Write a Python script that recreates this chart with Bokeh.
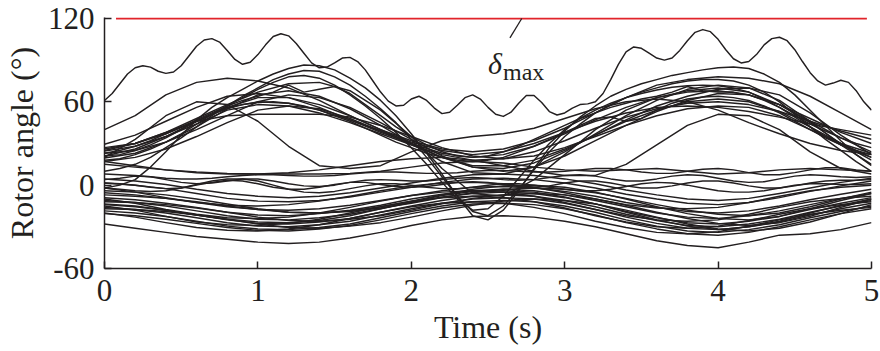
import numpy as np
from bokeh.plotting import figure
from bokeh.models import Range1d, FixedTicker, Label
from bokeh.embed import file_html
from bokeh.resources import INLINE

# ---------------- data (rotor angles in degrees) ----------------
X_TICKS = [0, 1, 2, 3, 4, 5]
Y_TICKS = [-60, 0, 60, 120]
DELTA_MAX = 120
RED_T = [0.075, 4.97]

# top machine, sampled every 0.05 s
top_line = [61, 66, 73, 80, 84.5, 86, 85, 82, 80.5, 81.5,
            86, 93, 100, 104.5, 105.5, 103, 97, 90.5, 87, 88.5,
            94, 101, 107, 109, 107.5, 102, 95, 88, 84.5, 85,
            88, 91.5, 92, 89, 83, 75, 67, 60.5, 57, 57.5,
            62, 64, 61, 55.5, 51.5, 52.5, 57.5, 63, 65, 62,
            56, 51, 49.5, 52.5, 59, 64.5, 64.5, 59.5, 53, 50.5,
            52, 55.5, 58, 58.5, 60, 66, 76, 87, 96, 99.5,
            98.5, 95, 91.5, 90, 91.5, 97, 104, 110, 112, 110.5,
            105, 97.5, 91, 88, 89, 94, 101, 105.5, 106.5, 104,
            97.5, 89, 81, 75, 72, 73.5, 75.5, 74, 68, 60,
            54]

# machines sampled every 0.2 s
a1 = [40, 50, 65, 74, 77, 75, 70, 61, 50, 40, 32, 26, 24, 26, 32, 41, 52, 63, 72, 76, 78, 77, 73, 64, 52, 40]
a2 = [29.5, 36, 46, 56, 64, 66, 63, 56, 47, 38, 30, 23, 20, 22, 28, 37, 47, 56, 63, 67, 68, 65, 58, 48, 38, 30]
a3 = [27, 30, 37, 46, 56, 63, 63, 58, 50, 40, 30, 20, 13, 12, 16, 25, 36, 47, 57, 64, 69, 70, 65, 52, 36, 22]
a4 = [24.5, 28, 35, 44, 54, 58, 57, 52, 45, 37, 29, 22, 18, 19, 24, 32, 41, 49, 55, 59, 60, 58, 53, 46, 39, 33]
a5 = [23, 25, 31, 40, 50, 60, 65, 63, 56, 45, 33, 21, 13, 10, 13, 21, 32, 43, 53, 61, 66, 65, 58, 45, 30, 18]
a6 = [21, 26, 35, 46, 56, 60, 59, 54, 47, 39, 31, 25, 22, 24, 30, 38, 46, 52, 56, 57, 56, 53, 49, 44, 40, 36]
a7 = [19.5, 23, 31, 42, 55, 65, 68, 64, 55, 43, 30, 17, 9, 8, 13, 24, 37, 50, 61, 69, 72, 70, 61, 46, 29, 15]
a8 = [17, 20, 26, 35, 45, 54, 57, 55, 48, 39, 29, 20, 14, 14, 18, 26, 36, 46, 54, 60, 62, 60, 53, 42, 30, 20]
a9 = [25, 30, 38, 46, 50, 51, 51, 51, 49, 43, 35, 27, 21, 19, 21, 27, 35, 43, 50, 55, 57, 56, 50, 40, 30, 23]
a11 = [20, 33, 50, 60, 58, 46, 28, 14, 12, 14, 24, 32, 35, 37, 41, 48, 55, 60, 62, 60, 54, 45, 37, 30, 25, 22]
a12 = [15, 13, 11, 9, 8, 8, 9, 11, 14, 17, 19, 20, 18, 14, 10, 7, 7, 15, 29, 43, 51, 50, 40, 24, 12, 8]
d4 = [26, 30, 38, 48, 58, 67, 73, 74, 68, 54, 35, 12, -6, -8, 4, 22, 40, 54, 63, 68, 70, 67, 58, 46, 34, 24]
c1 = [17, 14, 11, 9.5, 8.5, 8, 8, 8, 8.5, 10, 13, 16, 17, 16, 13, 11, 10, 11, 12, 10, 8, 9, 11, 12, 11, 10]
b0 = [-28, -31, -34, -37, -39, -41, -42, -41, -38, -34, -29, -25, -22.5, -22, -23, -26, -30, -35, -40, -43.5, -45, -41, -36, -35, -32, -27]
b1 = [4.5, 3, 0.5, -3, -6, -8, -9, -8, -5.5, -2, 1.5, 5, 7.5, 8, 7, 4.5, 1, -3.5, -7, -10, -11, -9.5, -6, -2, 2, 5]
b2 = [1.6, 0, -2.5, -6, -9.5, -11.5, -12, -11, -8.5, -5, -1.5, 2, 4.5, 5, 4, 1.5, -2, -6.5, -10, -13, -14, -12.5, -9, -4.5, -0.5, 3]
b3 = [-2, -5, -9, -12.5, -14.5, -15, -14, -11.5, -8, -4, -0.5, 1.5, 2, 1, -1.5, -5.5, -10, -14, -16.5, -17, -16, -12.5, -8, -4, -1.5, 0]
b4 = [-5.5, -7, -9.5, -12.5, -15.5, -17.5, -18, -17, -14.5, -11, -7.5, -4, -1.5, -1, -2, -4.5, -8, -12.5, -16, -19, -20, -18.5, -15, -10.5, -6.5, -3]
b5 = [-7, -8, -9.5, -12, -15, -17.5, -19.5, -20, -19, -16.5, -13, -9, -5.5, -3, -2, -3, -5.5, -9.5, -14, -18, -21, -22, -20, -15.5, -10, -5]
b6 = [-9, -10.5, -13, -16, -19.5, -21.5, -22, -20.5, -18, -14.5, -10, -6.5, -4, -3, -4, -7, -11, -15.5, -20, -23, -24, -22, -18.5, -14, -9.5, -6]
b7 = [-10, -13, -17.5, -21, -23.5, -24, -23, -20, -16, -11.5, -7.5, -5, -4, -5, -8, -12.5, -17.5, -22, -25, -26, -25, -21, -16, -12, -9.5, -8]
b8 = [-11, -12.5, -15, -18.5, -22, -24.5, -25, -23.5, -21, -17, -12.5, -8.5, -6, -5, -6, -9, -13.5, -19, -23.5, -27, -28, -26, -22.5, -17.5, -13, -9]
b9 = [-12, -12.5, -14, -16.5, -19.5, -23, -25.5, -26, -24.5, -22, -18, -13.5, -9.5, -7, -6, -7, -10, -14.5, -19.5, -24, -27.5, -29, -27, -22.5, -16, -10]
b10 = [-13.5, -15, -18, -21.5, -25, -27.5, -28, -26.5, -24, -19.5, -15, -11, -8, -7, -8, -11, -15.5, -21, -25.5, -29, -30, -28, -24.5, -19.5, -15, -11]
b11 = [-15, -18, -22.5, -26.5, -28.5, -29, -27.5, -24.5, -20, -15.5, -11.5, -9, -8, -9, -12, -16.5, -22, -26.5, -30, -31, -29.5, -25.5, -21, -17, -14, -12]
b12 = [-16, -17.5, -20, -23.5, -27, -29.5, -30, -28.5, -26, -21.5, -17, -13, -10, -9, -10, -13, -17.5, -23, -27.5, -31, -32, -30, -26.5, -21.5, -17, -13]
b13 = [-17, -17.5, -19, -21.5, -24.5, -28, -30.5, -31, -29.5, -27, -23, -18.5, -14.5, -11.5, -10, -11, -13.5, -18, -23, -28, -31.5, -33, -31, -26.5, -20.5, -14]
b14 = [-18.5, -20, -22.5, -26, -29.5, -31.5, -32, -30.5, -28, -23.5, -19, -15, -12, -11, -12, -15, -19.5, -25, -29.5, -33, -34, -32, -28.5, -23.5, -19, -15]
b15 = [-20, -23, -27, -30.5, -32.5, -33, -31.5, -28.5, -24, -19.5, -15.5, -13, -12, -13, -16, -20.5, -26, -30.5, -34, -35, -33.5, -29.5, -25, -21, -18, -16]
b16 = [-20.5, -22, -24.5, -27.5, -30.5, -32.5, -33, -31.5, -29, -25, -20.5, -16.5, -13.5, -13, -14, -17, -21.5, -27, -31.5, -35, -36, -34, -30, -25, -20.5, -17]
b17 = [-4, -5, -7, -10, -13.5, -17, -19.5, -20, -18.5, -15.5, -11.5, -7, -3, -0.5, 0, -1.5, -5, -10, -15.5, -20.5, -24, -25, -22.5, -17, -11, -6]
b18 = [-14, -15.5, -18, -21.5, -24.5, -26.5, -27, -25.5, -22, -17, -12, -7.5, -4.5, -4, -5, -8.5, -13.5, -19.5, -25, -29.5, -32, -30, -26, -20, -14.5, -10]

# machines sampled every 0.1 s
w1 = [23, 25, 28, 32, 37, 42, 47, 52, 57, 61,
      64, 67, 72, 67, 69, 71, 66, 58, 50, 42,
      35, 29, 24, 21, 20, 21, 24, 28, 33, 38,
      43, 48, 52, 56, 59, 62, 64, 67, 71, 68,
      67, 67, 65, 61, 56, 50, 44, 39, 34, 30,
      27]
w2 = [21, 22, 25, 29, 34, 40, 46, 51, 55, 58,
      59.5, 60, 59, 57, 54, 50, 46, 41, 36, 31,
      27, 23, 20, 18, 17, 18, 20, 24, 28, 33,
      38, 43, 48, 49, 46, 48, 54, 59, 62, 63.5,
      64, 63, 61, 57, 52, 46, 40, 34, 29, 25,
      22]
d1 = [-2, 0, 4, 13, 24, 36, 47, 56, 63, 69,
      75, 80, 84, 86.5, 86, 83, 77, 70, 61, 50,
      37, 23, 8, -8, -22, -25, -18, -4, 12, 27,
      39, 49, 57, 64, 69, 73, 76, 79, 81, 83,
      84.5, 85, 84, 80, 74, 65, 54, 43, 32, 22,
      14]
d2 = [10, 12, 15, 20, 27, 34, 42, 50, 57, 64,
      70, 76, 80, 82.5, 82, 78, 72, 64, 55, 45,
      33, 20, 6, -8, -19, -22, -15, -3, 11, 24,
      35, 44, 52, 58, 63, 67, 70, 73, 75, 76,
      76, 75, 72, 67, 60, 51, 42, 33, 25, 17,
      10]
d3 = [18, 19, 22, 26, 31, 37, 44, 51, 57, 63,
      69, 74, 78, 79, 77, 72, 65, 57, 48, 38,
      27, 15, 2, -10, -18, -17, -8, 5, 18, 30,
      40, 48, 54, 59, 63, 66, 68.5, 70.5, 71.5, 72,
      71.5, 70, 67, 62, 56, 49, 42, 35, 29, 24,
      20]
c2 = [4, 5, 6.5, 6, 4, 2, 1, 1.5, 3, 4.5,
      4.5, 3, 1, -0.5, -1, 0, 2, 3.5, 4, 3.5,
      3, 3, 4, 5, 5.5, 5, 4, 3.5, 4, 5.5,
      7, 7.5, 6.5, 4.5, 3, 3, 4.5, 6.5, 7.5, 7,
      5, 3, 2, 2.5, 4.5, 6.5, 7.5, 7, 6, 5.5,
      6]
c3 = [1.6, 1, 0, -1.5, -2.5, -2, 0, 2, 3.5, 3,
      1, -1.5, -3, -3, -1.5, 0.5, 2, 2, 0.5, -1,
      -1.5, -1, 0.5, 2, 2.5, 2, 0.5, -1, -1.5, -0.5,
      1.5, 3, 3, 1.5, -0.5, -2, -2, -0.5, 1.5, 3,
      3, 1.5, -0.5, -2, -2, -0.5, 1.5, 3, 3.5, 3.5,
      4]
c4 = [-2, -3, -4, -4.5, -4, -2, 0.5, 3, 4.5, 4.5,
      3, 0, -3, -5, -5.5, -4.5, -2.5, -0.5, 1, 1,
      0, -1.5, -2.5, -2.5, -1.5, 0, 1, 1, 0, -1.5,
      -3, -4, -4, -3, -1, 1, 2, 1.5, 0, -2,
      -4, -5, -5, -4, -2, 0, 1, 1, 0.5, 0.5,
      1]
c5 = [8, 7.5, 7, 6, 5, 4.5, 4.5, 5, 6, 7,
      7.5, 7.5, 7, 6.5, 6.5, 7, 8, 9, 9.5, 9.5,
      9, 8.5, 8.5, 9, 10, 10.5, 10.5, 10, 9.5, 9.5,
      10, 11, 12, 12, 11, 9.5, 8.5, 8.5, 10, 11.5,
      12, 11, 9, 7.5, 7.5, 9, 11, 12.5, 12.5, 11,
      10]

# ---------------- figure ----------------
INK = "#231f20"
RED = "#e1242b"
FONT = "Liberation Serif"

T05 = np.linspace(0.0, 5.0, len(top_line))
T10 = np.linspace(0.0, 5.0, len(w1))
T20 = np.linspace(0.0, 5.0, len(a1))

coarse = [a1, a2, a3, a4, a5, a6, a7, a8, a9, a11, a12, d4, c1,
          b0, b1, b2, b3, b4, b5, b6, b7, b8, b9, b10, b11, b12,
          b13, b14, b15, b16, b17, b18]
fine = [w1, w2, d1, d2, d3, c2, c3, c4, c5]

xs = [list(T20) for _ in coarse] + [list(T10) for _ in fine] + [list(T05)]
ys = [list(v) for v in coarse] + [list(v) for v in fine] + [list(top_line)]

p = figure(width=880, height=351, output_backend="svg", toolbar_location=None,
           x_range=Range1d(0, 5), y_range=Range1d(-60, 120.7),
           min_border_left=103, min_border_right=9,
           min_border_top=17, min_border_bottom=83)
p.outline_line_color = None
p.grid.visible = False
p.background_fill_color = "white"
p.border_fill_color = "white"

p.multi_line(xs=xs, ys=ys, line_color=INK, line_width=1.45, line_join="round")
p.line(x=RED_T, y=[DELTA_MAX, DELTA_MAX], line_color=RED, line_width=2)

# leader and label for delta_max
p.segment(x0=2.643, y0=106, x1=2.72, y1=DELTA_MAX, line_color=INK, line_width=1.3)
p.add_layout(Label(x=2.5, y=87.5, text="δ", text_font=FONT, text_font_style="italic",
                   text_font_size="30px", text_color=INK, text_baseline="alphabetic"))
p.add_layout(Label(x=2.598, y=81.5, text="max", text_font=FONT,
                   text_font_size="24px", text_color=INK, text_baseline="alphabetic"))

p.xaxis.ticker = FixedTicker(ticks=X_TICKS)
p.yaxis.ticker = FixedTicker(ticks=Y_TICKS)
p.yaxis.major_label_overrides = {t: str(t) for t in Y_TICKS}
p.xaxis.axis_label = "Time (s)"
p.yaxis.axis_label = "Rotor angle (°)"

for ax in (p.xaxis[0], p.yaxis[0]):
    ax.axis_line_color = INK
    ax.axis_line_width = 1.5
    ax.major_tick_line_color = INK
    ax.major_tick_line_width = 1.5
    ax.major_tick_in = 7
    ax.major_tick_out = 0
    ax.minor_tick_line_color = None
    ax.major_label_text_font = FONT
    ax.major_label_text_font_size = "31px"
    ax.major_label_text_color = INK
    ax.axis_label_text_font = FONT
    ax.axis_label_text_font_size = "32px"
    ax.axis_label_text_font_style = "normal"
    ax.axis_label_text_color = INK
    ax.axis_label_text_line_height = 1.0

p.xaxis.major_label_standoff = 11
p.xaxis.axis_label_standoff = 5
p.yaxis.major_label_standoff = 10
p.yaxis.axis_label_standoff = 5

open("out.html", "w").write(file_html(p, INLINE))
